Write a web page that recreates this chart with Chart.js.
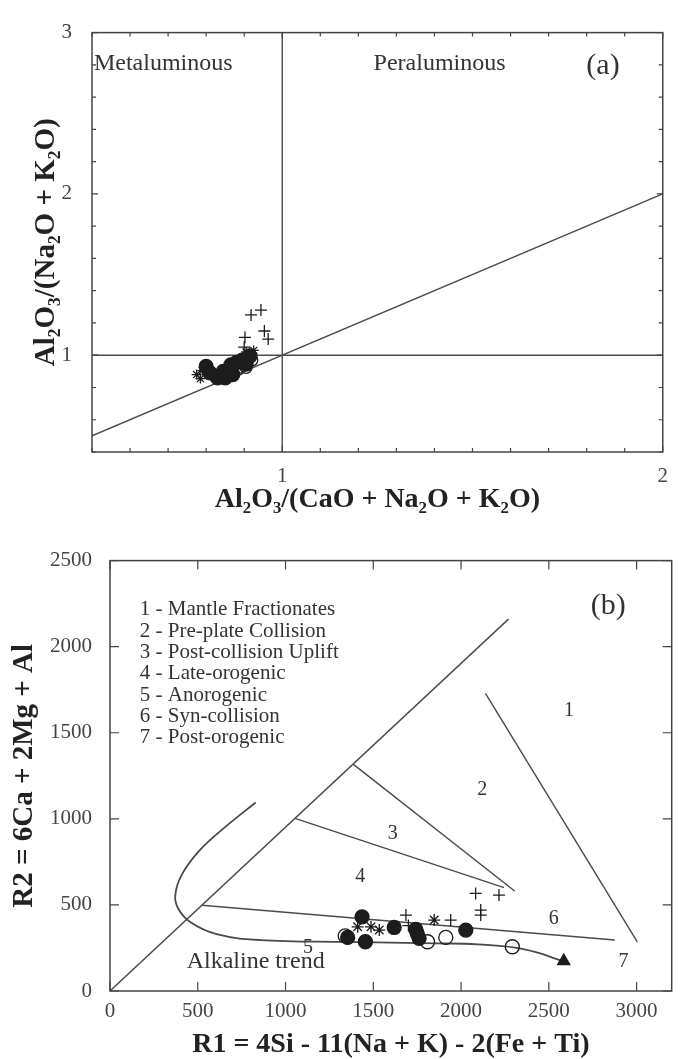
<!DOCTYPE html>
<html>
<head>
<meta charset="utf-8">
<script src="https://cdn.jsdelivr.net/npm/chart.js@4.4.1/dist/chart.umd.min.js"></script>
<style>
  body{margin:0;background:#fff;width:680px;height:1059px;position:relative;overflow:hidden}
  #boxA{position:absolute;left:0;top:0;width:680px;height:520px}
  #boxB{position:absolute;left:0;top:530px;width:680px;height:529px}
</style>
</head>
<body>
<div id="boxA"><canvas id="chartA" width="680" height="520"></canvas></div>
<div id="boxB"><canvas id="chartB" width="680" height="529"></canvas></div>
<script>
// ---- (a) A/NK vs A/CNK ----
const aFilled = [[0.80,0.93],[0.81,0.89],[0.83,0.86],[0.85,0.86],[0.87,0.88],[0.845,0.90],[0.865,0.94],[0.88,0.955],[0.895,0.97],[0.915,0.995],[0.905,0.945]];
const aStar   = [[0.775,0.88],[0.785,0.855],[0.79,0.905],[0.925,1.03],[0.905,1.02],[0.86,0.91]];
const aOpen   = [[0.885,0.915],[0.905,0.925],[0.92,0.97],[0.87,0.92]];
const aPlus   = [[0.918,1.25],[0.944,1.28],[0.953,1.15],[0.963,1.10],[0.902,1.11],[0.90,1.05]];
const aVert   = [[1,0.4],[1,3]];
const aHoriz  = [[0.5,1],[2,1]];
const aDiag   = [[0.5,0.5],[2,2]];
const aRegions = ['Metaluminous','Peraluminous','(a)'];

// ---- (b) R1-R2 ----
const bFilled = [[1436,431],[1619,369],[1742,358],[1761,306],[2027,354],[1354,311],[1455,286],[1750,335]];
const bOpen   = [[1809,286],[1913,311],[2292,257],[1340,320]];
const bPlus   = [[1686,441],[1700,380],[1941,412],[2083,567],[2216,557],[2112,470],[2112,441]];
const bStar   = [[1847,412],[1534,354],[1487,373],[1411,373]];
const bDiag   = [[0,0],[2270,2160]];
const bLine12 = [[2139,1729],[3004,285]];
const bLine23 = [[1385,1318],[2305,581]];
const bLine34 = [[1054,1003],[2245,600]];
const bLine46 = [[523,498],[2876,296]];
const alkTrendX = [830,657,508,409,372,389,459,607,855,1351,1847,2095,2318,2442,2566];
const alkTrendY = [1095,953,814,676,557,478,399,330,296,285,277,271,251,221,178];
const bArrow  = [[2585,174]];
const bXTicks = [0,500,1000,1500,2000,2500,3000];
const bYTicks = [0,500,1000,1500,2000,2500];
const bLegend = ['1 - Mantle Fractionates','2 - Pre-plate Collision','3 - Post-collision Uplift','4 - Late-orogenic','5 - Anorogenic','6 - Syn-collision','7 - Post-orogenic'];
const bZones  = ['1','2','3','4','5','6','7'];
const bZoneAt = [[2615,1625],[2120,1170],[1611,913],[1425,666],[1128,251],[2528,419],[2925,172]];

const serif = "'Liberation Serif','Times New Roman',serif";
const ink = '#333';
const pts = arr => arr.map(p => ({x: p[0], y: p[1]}));
const isWhole = v => Math.abs(v - Math.round(v)) < 1e-6;

// box round the plot and inward tick marks on all four sides
const framePlugin = {
  id: 'frame',
  afterDatasetsDraw(chart, args, opts) {
    const {ctx, chartArea: a, scales: {x, y}} = chart;
    ctx.save();
    ctx.strokeStyle = '#444';
    ctx.lineWidth = 1.5;
    ctx.strokeRect(a.left, a.top, a.right - a.left, a.bottom - a.top);
    ctx.lineWidth = 1.2;
    ctx.beginPath();
    x.ticks.forEach(t => {
      const px = x.getPixelForValue(t.value);
      const len = isWhole(t.value) ? opts.major : opts.minor;
      ctx.moveTo(px, a.bottom); ctx.lineTo(px, a.bottom - len);
      ctx.moveTo(px, a.top); ctx.lineTo(px, a.top + len);
    });
    y.ticks.forEach(t => {
      const py = y.getPixelForValue(t.value);
      const len = isWhole(t.value) ? opts.major : opts.minor;
      ctx.moveTo(a.left, py); ctx.lineTo(a.left + len, py);
      ctx.moveTo(a.right, py); ctx.lineTo(a.right - len, py);
    });
    ctx.stroke();
    ctx.restore();
  }
};

// free text placed at data coordinates
const notesPlugin = {
  id: 'notes',
  afterDatasetsDraw(chart, args, opts) {
    const {ctx, scales: {x, y}} = chart;
    ctx.save();
    ctx.fillStyle = ink;
    ctx.textBaseline = 'middle';
    (opts.items || []).forEach(it => {
      ctx.font = it.size + 'px ' + serif;
      ctx.textAlign = it.align || 'center';
      ctx.fillText(it.text, x.getPixelForValue(it.x), y.getPixelForValue(it.y));
    });
    ctx.restore();
  }
};

function lineSet(arr, w) {
  return {data: pts(arr), showLine: true, borderColor: '#4a4a4a', borderWidth: w || 1.4, pointRadius: 0, fill: false};
}
function markSet(arr, style, r, filled) {
  return {
    data: pts(arr), pointStyle: style, pointRadius: r,
    backgroundColor: filled ? '#1c1c1c' : 'rgba(255,255,255,0)',
    borderColor: '#1c1c1c', borderWidth: 1.3
  };
}
function axis(o) {
  const s = {
    type: 'linear', min: o.min, max: o.max,
    grid: {display: false, drawTicks: false, tickLength: 0},
    border: {display: false},
    ticks: {
      stepSize: o.step, autoSkip: false, maxRotation: 0, padding: o.pad,
      color: '#444', font: {family: serif, size: o.tick},
      callback: o.label
    },
    title: {display: true, text: o.title, color: '#222', padding: o.tpad,
      font: {family: serif, size: o.tsize, weight: 'bold', lineHeight: 1}},
    afterFit: o.fit
  };
  if (o.values) s.afterBuildTicks = sc => { sc.ticks = o.values.map(v => ({value: v})); };
  return s;
}

new Chart(document.getElementById('chartA'), {
  type: 'scatter',
  data: {datasets: [
    markSet(aFilled, 'circle', 7, true),
    markSet(aOpen, 'circle', 6, false),
    markSet(aStar, 'star', 5, false),
    markSet(aPlus, 'cross', 6, false),
    lineSet(aVert), lineSet(aHoriz), lineSet(aDiag)
  ]},
  options: {
    responsive: false, animation: false, devicePixelRatio: 1,
    layout: {padding: {top: 19, right: 17, left: 0, bottom: 0}},
    plugins: {
      legend: {display: false}, tooltip: {enabled: false},
      frame: {major: 6, minor: 4},
      notes: {items: [
        {text: aRegions[0], x: 0.505, y: 2.81, size: 24, align: 'left'},
        {text: aRegions[1], x: 1.24, y: 2.81, size: 24, align: 'left'},
        {text: aRegions[2], x: 1.843, y: 2.79, size: 30}
      ]}
    },
    scales: {
      x: axis({min: 0.5, max: 2, step: 0.1, pad: 12, tick: 21,
        label: v => isWhole(v) ? String(Math.round(v)) : '',
        title: 'Al₂O₃/(CaO + Na₂O + K₂O)', tsize: 28, tpad: {top: 0, bottom: 6},
        fit: s => { s.height = 68; }}),
      y: axis({min: 0.4, max: 3, step: 0.2, pad: 20, tick: 21,
        label: v => isWhole(v) ? String(Math.round(v)) : '',
        title: 'Al₂O₃/(Na₂O + K₂O)', tsize: 29, tpad: {top: 32, bottom: 0},
        fit: s => { s.width = 92; }})
    }
  },
  plugins: [framePlugin, notesPlugin]
});

new Chart(document.getElementById('chartB'), {
  type: 'scatter',
  data: {datasets: [
    markSet(bArrow, 'triangle', 7, true),
    markSet(bFilled, 'circle', 7, true),
    markSet(bOpen, 'circle', 7, false),
    markSet(bStar, 'star', 6, false),
    markSet(bPlus, 'cross', 6, false),
    Object.assign(lineSet(alkTrendX.map((v, i) => [v, alkTrendY[i]]), 1.8), {tension: 0.4}),
    lineSet(bDiag), lineSet(bLine12), lineSet(bLine23), lineSet(bLine34), lineSet(bLine46)
  ]},
  options: {
    responsive: false, animation: false, devicePixelRatio: 1,
    layout: {padding: {top: 30, right: 7, left: 0, bottom: 0}},
    plugins: {
      legend: {display: false}, tooltip: {enabled: false},
      frame: {major: 9, minor: 9},
      notes: {items: [
        {text: '(b)', x: 2838, y: 2237, size: 30},
        {text: 'Alkaline trend', x: 437, y: 168, size: 24, align: 'left'}
      ].concat(
        bLegend.map((t, i) => ({text: t, x: 170, y: 2215 - i * 124, size: 21, align: 'left'})),
        bZones.map((t, i) => ({text: t, x: bZoneAt[i][0], y: bZoneAt[i][1], size: 20}))
      )}
    },
    scales: {
      x: axis({min: 0, max: 3200, pad: 8, tick: 21, values: bXTicks,
        label: v => String(v),
        title: 'R1 = 4Si - 11(Na + K) - 2(Fe + Ti)', tsize: 28, tpad: {top: 0, bottom: 0},
        fit: s => { s.height = 68; }}),
      y: axis({min: 0, max: 2500, pad: 18, tick: 21, values: bYTicks,
        label: v => String(v),
        title: 'R2 = 6Ca + 2Mg + Al', tsize: 29, tpad: {top: 10, bottom: 0},
        fit: s => { s.width = 110; }})
    }
  },
  plugins: [framePlugin, notesPlugin]
});
</script>
</body>
</html>
